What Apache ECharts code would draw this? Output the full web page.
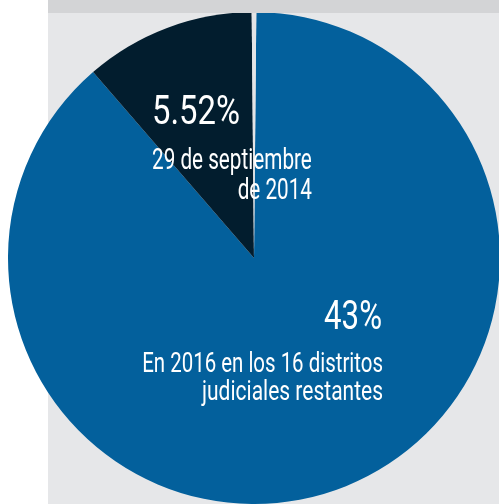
<!DOCTYPE html>
<html>
<head>
<meta charset="utf-8">
<script src="https://cdn.jsdelivr.net/npm/echarts@6/dist/echarts.min.js"></script>
<style>
  html, body { margin: 0; padding: 0; background: #fff; }
  #chart { width: 499px; height: 504px; }
</style>
</head>
<body>
<div id="chart"></div>
<script>
// slices (angles of the wedges)
const sliceNames = ['En 2016 en los 16 distritos judiciales restantes', '29 de septiembre de 2014', '']
const sliceValues = [88.5, 11.2, 0.3]
const sliceColors = ['#03609c', '#021d2e', '#e3e4e6']

// texts printed on the slices
const bluePct = '43%'
const blueLines = ['En 2016 en los 16 distritos', 'judiciales restantes']
const darkPct = '5.52%'
const darkLines = ['29 de septiembre', 'de 2014']

const chart = echarts.init(document.getElementById('chart'))

const font = (size) => size + 'px Roboto, "Noto Sans", sans-serif'

// condensed look: text squeezed horizontally
const txt = (text, x, y, size, align, sx) => ({
  type: 'text',
  x: x,
  y: y,
  scaleX: sx,
  z: 20,
  silent: true,
  style: {
    text: text,
    fill: '#fff',
    font: font(size),
    textAlign: align,
    textVerticalAlign: 'bottom'
  }
})

const option = {
  backgroundColor: '#fff',
  animation: false,
  graphic: [
    { type: 'rect', z: -5, silent: true, shape: { x: 48, y: 0, width: 451, height: 504 }, style: { fill: '#e6e7e9' } },
    { type: 'rect', z: 10, silent: true, shape: { x: 48, y: 0, width: 451, height: 13 }, style: { fill: '#d3d4d6' } },
    txt(darkPct, 152, 134, 40, 'left', 0.82),
    txt(darkLines[0], 152, 176, 30, 'left', 0.69),
    txt(darkLines[1], 312, 206, 30, 'right', 0.69),
    txt(bluePct, 382, 339, 40, 'right', 0.78),
    txt(blueLines[0], 383, 379, 28, 'right', 0.73),
    txt(blueLines[1], 383, 407, 28, 'right', 0.75)
  ],
  series: [
    {
      type: 'pie',
      center: [254, 258],
      radius: 246,
      startAngle: 89.46,
      clockwise: true,
      silent: true,
      label: { show: false },
      labelLine: { show: false },
      emphasis: { disabled: true },
      data: sliceNames.map((n, i) => ({
        name: n,
        value: sliceValues[i],
        itemStyle: { color: sliceColors[i] }
      }))
    }
  ]
}

chart.setOption(option)
</script>
</body>
</html>
